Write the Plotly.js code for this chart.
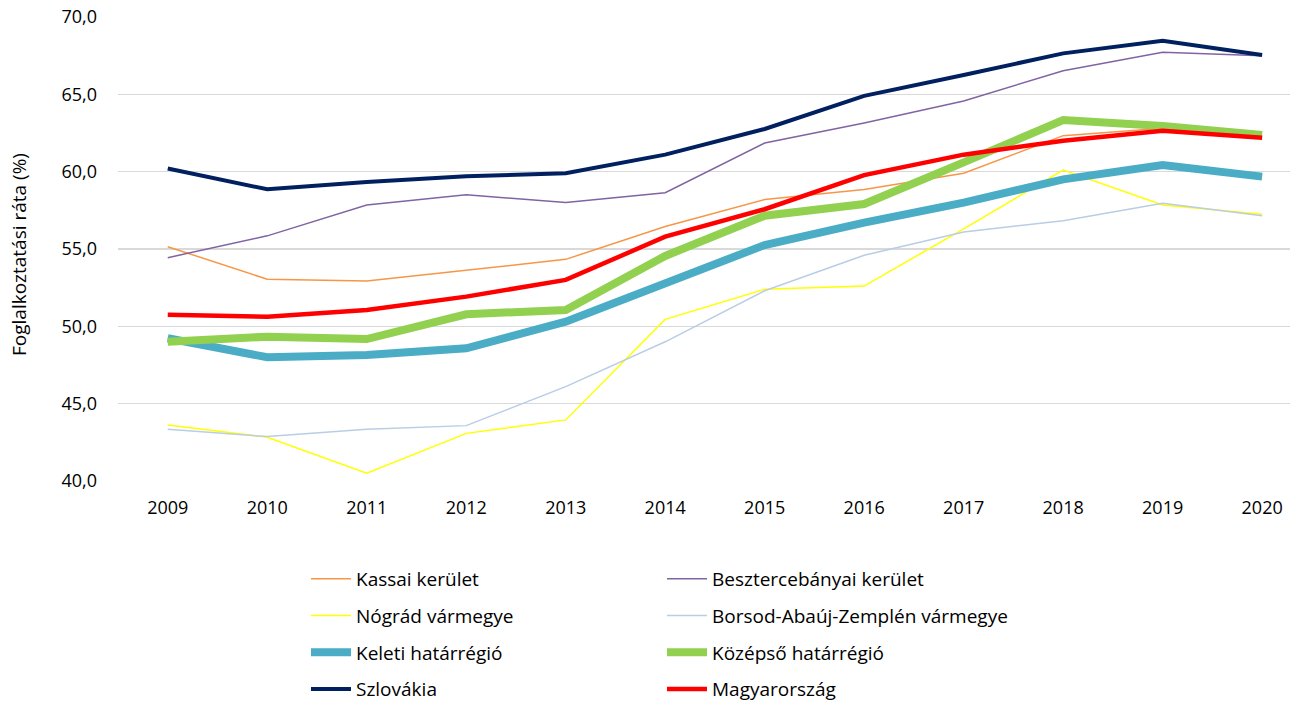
<!DOCTYPE html>
<html>
<head>
<meta charset="utf-8">
<script src="https://cdn.plot.ly/plotly-3.0.1.min.js"></script>
<style>html,body{margin:0;padding:0;background:#fff;}#chart{width:1295px;height:703px;}</style>
</head>
<body>
<div id="chart"></div>
<script>
var years = ['2009','2010','2011','2012','2013','2014','2015','2016','2017','2018','2019','2020'];

var kassai      = [55.15, 53.05, 52.93, 53.64, 54.33, 56.45, 58.2, 58.85, 59.9, 62.33, 62.8, 62.3];
var beszterce   = [54.44, 55.85, 57.85, 58.5, 58.0, 58.64, 61.85, 63.15, 64.57, 66.53, 67.72, 67.5];
var nograd      = [43.62, 42.83, 40.5, 43.08, 43.95, 50.45, 52.4, 52.6, 56.3, 60.1, 57.85, 57.24];
var borsod      = [43.34, 42.87, 43.34, 43.58, 46.1, 49.0, 52.3, 54.6, 56.1, 56.83, 57.95, 57.15];
var keleti      = [49.23, 48.0, 48.15, 48.58, 50.3, 52.78, 55.26, 56.7, 58.0, 59.5, 60.43, 59.68];
var kozepso     = [49.0, 49.33, 49.18, 50.78, 51.06, 54.55, 57.15, 57.91, 60.6, 63.34, 62.95, 62.37];
var szlovakia   = [60.2, 58.86, 59.33, 59.7, 59.9, 61.1, 62.76, 64.9, 66.25, 67.65, 68.47, 67.54];
var magyar      = [50.75, 50.62, 51.06, 51.92, 53.0, 55.8, 57.57, 59.78, 61.1, 62.0, 62.65, 62.2];

var names = ['Kassai kerület','Besztercebányai kerület','Nógrád vármegye','Borsod-Abaúj-Zemplén vármegye',
             'Keleti határrégió','Középső határrégió','Szlovákia','Magyarország'];
var yTitle = 'Foglalkoztatási ráta (%)';

var series = [kassai, beszterce, nograd, borsod, keleti, kozepso, szlovakia, magyar];
var colors = ['#F79646','#8064A2','#FFFF00','#B9CDE5','#4BACC6','#92D050','#002060','#FF0000'];
var widths = [1.5, 1.5, 1.5, 1.5, 8, 8, 4, 4.5];
var legendIds = ['legend','legend2','legend','legend2','legend','legend2','legend','legend2'];

var traces = series.map(function(s, i){
  return {
    x: years, y: s, name: names[i], type: 'scatter', mode: 'lines',
    line: {color: colors[i], width: widths[i]},
    legend: legendIds[i], legendgroup: 'g' + i,
    hoverinfo: 'x+y+name'
  };
});

var fontFam = '"Open Sans", "Noto Sans", sans-serif';
var legendCommon = {
  orientation: 'v', xref: 'container', yref: 'container', yanchor: 'top', xanchor: 'left',
  font: {family: fontFam, size: 19, color: '#000'}, tracegroupgap: 9,
  bgcolor: 'rgba(0,0,0,0)', borderwidth: 0, itemwidth: 40
};

var layout = {
  width: 1295, height: 703,
  margin: {l: 118, r: 5, t: 17, b: 222, autoexpand: false},
  paper_bgcolor: '#fff', plot_bgcolor: '#fff',
  font: {family: fontFam, size: 18, color: '#000'},
  separators: ',.',
  showlegend: true,
  xaxis: {
    type: 'category', range: [-0.5, 11.28], showgrid: false, zeroline: false, showline: false,
    ticks: '', ticklabelstandoff: 14, tickangle: 0, tickfont: {size: 18, color: '#000'}
  },
  yaxis: {
    range: [40, 70], dtick: 5, tick0: 40, tickformat: '.1f', showgrid: true,
    gridcolor: '#d9d9d9', gridwidth: 1.5, zeroline: false, showline: false, ticks: '',
    ticklabelstandoff: 20, tickfont: {size: 18, color: '#000'}
  },
  annotations: [{
    text: yTitle, xref: 'paper', yref: 'paper', x: (19 - 118) / 1172, y: 1 - (255 - 17) / 464,
    xanchor: 'center', yanchor: 'middle', textangle: -90, showarrow: false,
    font: {family: fontFam, size: 19, color: '#000'}
  }],
  legend: Object.assign({}, legendCommon, {x: 306/1295, y: 1 - 560/703}),
  legend2: Object.assign({}, legendCommon, {x: 662/1295, y: 1 - 560/703})
};

Plotly.newPlot('chart', traces, layout, {displayModeBar: false, staticPlot: true});
</script>
</body>
</html>
